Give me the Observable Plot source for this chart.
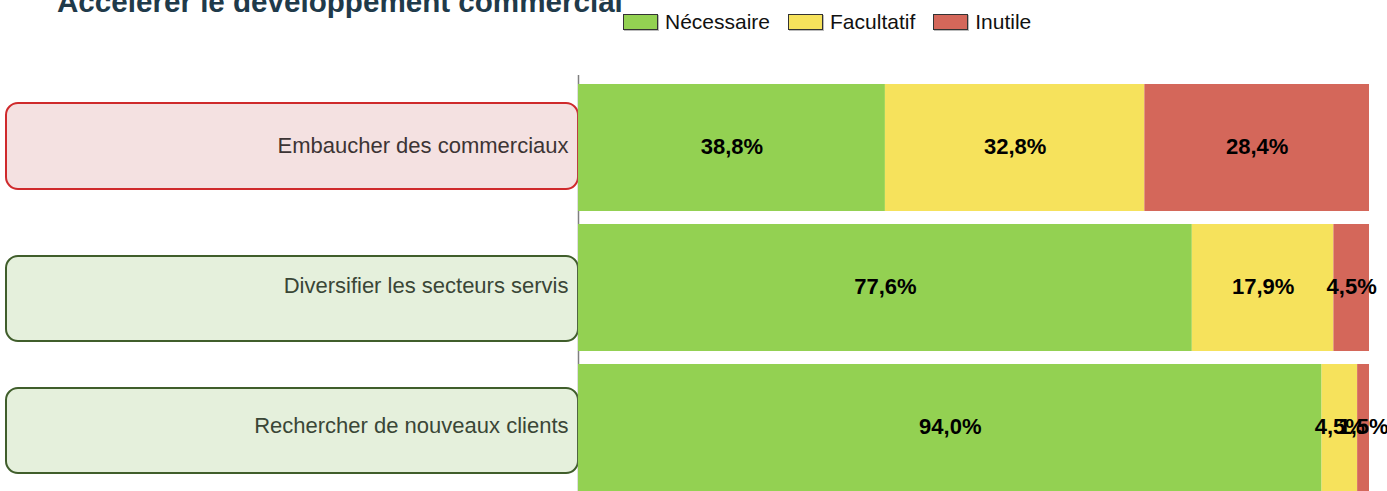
<!DOCTYPE html>
<html>
<head>
<meta charset="utf-8">
<script src="https://cdn.jsdelivr.net/npm/d3@7"></script>
<script src="https://cdn.jsdelivr.net/npm/@observablehq/plot@0.6"></script>
<style>
  html, body { margin: 0; padding: 0; background: #fff; overflow: hidden; }
  body { width: 1387px; height: 491px; position: relative; font-family: "Liberation Sans", Arial, sans-serif; }
  #title { position: absolute; left: 57px; top: -15px; font-size: 29.6px; font-weight: bold; color: #1f3a4a; white-space: nowrap; line-height: normal; }
  #legend { position: absolute; left: 623px; top: 10px; display: flex; align-items: center; font-size: 21px; color: #111; }
  .item { display: flex; align-items: center; margin-right: 18px; }
  .sw { width: 33px; height: 14px; border: 1px solid #333; box-shadow: 1px 1px 0 #bbb; margin-right: 7px; }
  #chart { position: absolute; left: 0; top: 0; }
</style>
</head>
<body>
<div id="title"></div>
<div id="legend"></div>
<div id="chart"></div>
<script>
const title = "Accélérer le développement commercial";
const tasks = ["Embaucher des commerciaux", "Diversifier les secteurs servis", "Rechercher de nouveaux clients"];
const categories = ["Nécessaire", "Facultatif", "Inutile"];
const colors = ["#93d152", "#f6e25c", "#d4675a"];
const necessaire = [38.8, 77.6, 94.0];
const facultatif = [32.8, 17.9, 4.5];
const inutile = [28.4, 4.5, 1.5];

const series = [necessaire, facultatif, inutile];
const data = [];
tasks.forEach((t, i) => categories.forEach((c, j) => data.push({task: t, cat: c, value: series[j][i]})));
const fmt = v => v.toFixed(1).replace(".", ",") + "%";

document.getElementById("title").textContent = title;
const legend = document.getElementById("legend");
categories.forEach((c, j) => {
  const it = document.createElement("div");
  it.className = "item";
  const sw = document.createElement("div");
  sw.className = "sw";
  sw.style.background = colors[j];
  const lb = document.createElement("span");
  lb.textContent = c;
  it.appendChild(sw); it.appendChild(lb);
  legend.appendChild(it);
});

const boxStyle = [
  {fill: "#f4e1e1", stroke: "#cf2a2c", text: "#3c3434", insetTop: 19, insetBottom: 22},
  {fill: "#e5f0dc", stroke: "#405e2b", text: "#3a4636", insetTop: 32, insetBottom: 10},
  {fill: "#e5f0dc", stroke: "#405e2b", text: "#3a4636", insetTop: 24, insetBottom: 18}
];

const boxMarks = tasks.flatMap((t, i) => [
  Plot.barX([t], {
    y: d => d, x1: 0, x2: 0,
    insetLeft: -572, insetTop: boxStyle[i].insetTop, insetBottom: boxStyle[i].insetBottom,
    rx: 12, fill: boxStyle[i].fill, stroke: boxStyle[i].stroke, strokeWidth: 2
  }),
  Plot.text([t], {
    y: d => d, x: 0, text: d => d, dx: -10, dy: -2, textAnchor: "end",
    fill: boxStyle[i].text, fontSize: 22, fontFamily: "Liberation Sans, Arial, sans-serif"
  })
]);

const chart = Plot.plot({
  width: 1387,
  height: 497,
  marginLeft: 578,
  marginRight: 18,
  marginTop: 77,
  marginBottom: 0,
  x: {domain: [0, 100], axis: null},
  y: {domain: tasks, paddingInner: 0.093, paddingOuter: 0.0465, axis: null},
  color: {domain: categories, range: colors},
  style: {fontFamily: "Liberation Sans, Arial, sans-serif", background: "transparent"},
  marks: [
    ...boxMarks,
    Plot.ruleX([0], {stroke: "#7f7f7f", strokeWidth: 1.5, insetTop: -2}),
    Plot.barX(data, Plot.stackX({y: "task", x: "value", z: "cat", fill: "cat"})),
    Plot.text(data, Plot.stackX({
      y: "task", x: "value", z: "cat", text: d => fmt(d.value), dy: -1,
      fill: "#000", fontWeight: "bold", fontSize: 22
    }))
  ]
});
document.getElementById("chart").appendChild(chart);
</script>
</body>
</html>
